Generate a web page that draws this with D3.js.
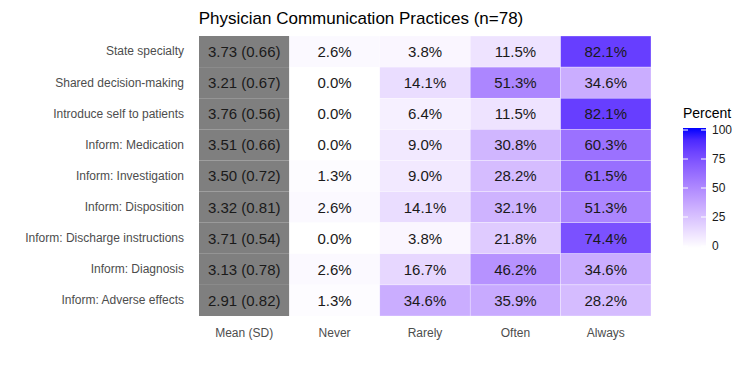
<!DOCTYPE html>
<html>
<head>
<meta charset="utf-8">
<script src="https://cdn.jsdelivr.net/npm/d3@7"></script>
<style>
  body { margin: 0; background: #fff; }
  text { font-family: "Liberation Sans", Arial, sans-serif; }
</style>
</head>
<body>
<div id="chart"></div>
<script>
// Chart data
const items = [
    'State specialty', 'Shared decision-making', 'Introduce self to patients',
    'Inform: Medication', 'Inform: Investigation', 'Inform: Disposition',
    'Inform: Discharge instructions', 'Inform: Diagnosis', 'Inform: Adverse effects'
];
const columns = ['Mean (SD)', 'Never', 'Rarely', 'Often', 'Always'];
const means = [3.73, 3.21, 3.76, 3.51, 3.50, 3.32, 3.71, 3.13, 2.91];
const sds = [0.66, 0.67, 0.56, 0.66, 0.72, 0.81, 0.54, 0.78, 0.82];
const never = [2.6, 0.0, 0.0, 0.0, 1.3, 2.6, 0.0, 2.6, 1.3];
const rarely = [3.8, 14.1, 6.4, 9.0, 9.0, 14.1, 3.8, 16.7, 34.6];
const often = [11.5, 51.3, 11.5, 30.8, 28.2, 32.1, 21.8, 46.2, 35.9];
const always = [82.1, 34.6, 82.1, 60.3, 61.5, 51.3, 74.4, 34.6, 28.2];
const legendTicks = [0, 25, 50, 75, 100];

const width = 750, height = 366;
const margin = { top: 36, right: 99, bottom: 50, left: 199 };

const svg = d3.select('#chart').append('svg')
    .attr('width', width)
    .attr('height', height);

const x = d3.scaleBand()
    .domain(columns)
    .range([margin.left, width - margin.right]);

const y = d3.scaleBand()
    .domain(items)
    .range([margin.top, height - margin.bottom]);

const color = d3.scaleLinear()
    .domain([0, 100])
    .range(['#ffffff', '#0000ff'])
    .interpolate(d3.interpolateLab);

// Build cells
const cells = [];
items.forEach((item, i) => {
    cells.push({ item, col: 'Mean (SD)', value: null, label: `${means[i].toFixed(2)} (${sds[i].toFixed(2)})` });
    [never, rarely, often, always].forEach((arr, j) => {
        cells.push({ item, col: columns[j + 1], value: arr[i], label: `${arr[i].toFixed(1)}%` });
    });
});

svg.append('g').selectAll('rect')
    .data(cells)
    .enter()
    .append('rect')
    .attr('x', d => x(d.col))
    .attr('y', d => y(d.item))
    .attr('width', x.bandwidth())
    .attr('height', y.bandwidth())
    .attr('fill', d => d.value === null ? '#7f7f7f' : color(d.value))
    .attr('stroke', d => d.value === null ? 'none' : 'rgba(255,255,255,0.6)')
    .attr('stroke-width', 0.5);

svg.append('g').selectAll('text')
    .data(cells)
    .enter()
    .append('text')
    .attr('x', d => x(d.col) + x.bandwidth() / 2)
    .attr('y', d => y(d.item) + y.bandwidth() / 2)
    .attr('dy', '0.36em')
    .attr('text-anchor', 'middle')
    .style('font-size', '15px')
    .style('fill', '#1a1a1a')
    .text(d => d.label);

// Axes (no lines, labels only)
const yAxis = svg.append('g')
    .attr('transform', `translate(${margin.left},0)`)
    .call(d3.axisLeft(y).tickSize(0).tickPadding(15));
yAxis.select('.domain').remove();
yAxis.selectAll('text')
    .style('font-size', '12px')
    .style('fill', '#4d4d4d')
    .style('font-family', '"Liberation Sans", Arial, sans-serif');

const xAxis = svg.append('g')
    .attr('transform', `translate(0,${height - margin.bottom})`)
    .call(d3.axisBottom(x).tickSize(0).tickPadding(12));
xAxis.select('.domain').remove();
xAxis.selectAll('text')
    .style('font-size', '12px')
    .style('fill', '#4d4d4d')
    .style('font-family', '"Liberation Sans", Arial, sans-serif');

// Title
svg.append('text')
    .attr('x', 361)
    .attr('y', 24)
    .attr('text-anchor', 'middle')
    .style('font-size', '17px')
    .style('fill', '#000')
    .text('Physician Communication Practices (n=78)');

// Legend
const legY = d3.scaleLinear().domain([0, 100]).range([246, 130]);
const legX = 683, legW = 23;
const defs = svg.append('defs');
const grad = defs.append('linearGradient')
    .attr('id', 'legend-grad')
    .attr('x1', 0).attr('y1', 1).attr('x2', 0).attr('y2', 0);
d3.range(0, 101, 10).forEach(v => {
    grad.append('stop')
        .attr('offset', `${v}%`)
        .attr('stop-color', color(v));
});

svg.append('rect')
    .attr('x', legX)
    .attr('y', legY(100) - 2)
    .attr('width', legW)
    .attr('height', legY(0) - legY(100) + 4)
    .attr('fill', 'url(#legend-grad)');

const legTicks = svg.append('g');
legendTicks.forEach(t => {
    legTicks.append('line')
        .attr('x1', legX).attr('x2', legX + 5)
        .attr('y1', legY(t)).attr('y2', legY(t))
        .attr('stroke', '#fff').attr('stroke-width', 1);
    legTicks.append('line')
        .attr('x1', legX + legW - 5).attr('x2', legX + legW)
        .attr('y1', legY(t)).attr('y2', legY(t))
        .attr('stroke', '#fff').attr('stroke-width', 1);
    legTicks.append('text')
        .attr('x', legX + legW + 6)
        .attr('y', legY(t))
        .attr('dy', '0.36em')
        .style('font-size', '12px')
        .style('fill', '#1a1a1a')
        .text(t);
});

svg.append('text')
    .attr('x', legX)
    .attr('y', 118)
    .style('font-size', '14px')
    .style('fill', '#000')
    .text('Percent');
</script>
</body>
</html>
